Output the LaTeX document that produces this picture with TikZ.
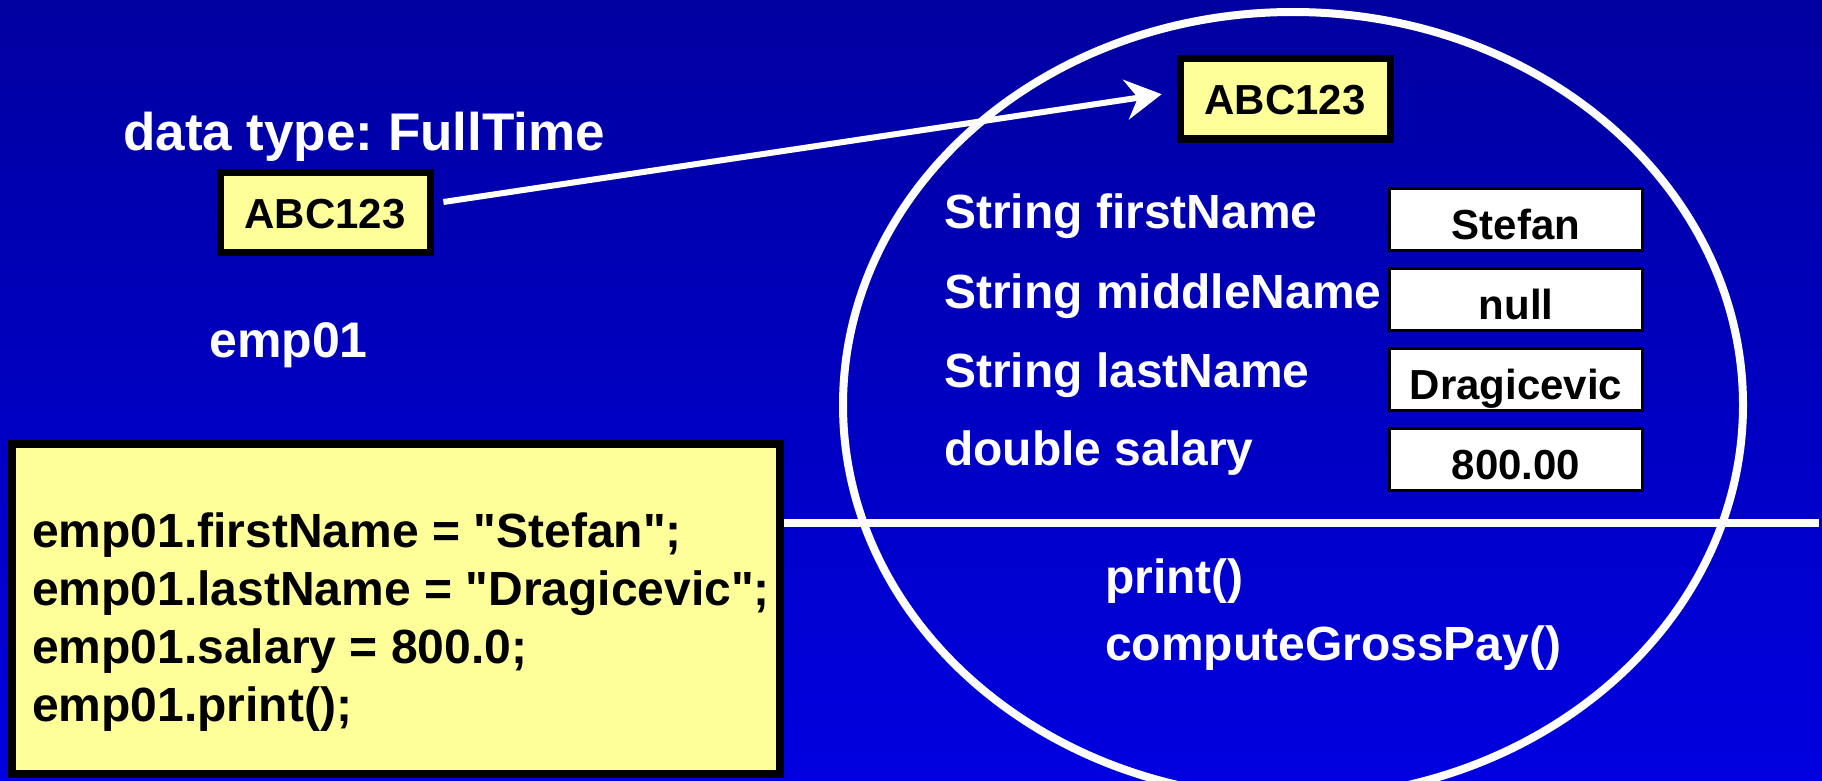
\documentclass[tikz,border=0pt]{standalone}
\usepackage{fontspec}
\setmainfont{Liberation Sans}
% plain family without TeX ligatures, so that " stays a straight quote
\newfontfamily\codefont{Liberation Sans}
\usetikzlibrary{arrows.meta}

\definecolor{slidetop}{RGB}{0,0,160}
\definecolor{slidebottom}{RGB}{0,0,224}
\definecolor{memo}{RGB}{255,255,153}

\newcommand\pxsize[1]{\fontsize{#1pt}{#1pt}\selectfont}
\frenchspacing

\tikzset{
  label text/.style={anchor=base west, inner sep=0pt, text=white, font=\bfseries\pxsize{48}},
  code text/.style={anchor=base west, inner sep=0pt, text=black, font=\codefont\bfseries\pxsize{48}},
  refbox/.style={draw=black, line width=7pt, fill=memo, inner sep=0pt,
    minimum width=210pt, minimum height=80pt, text height=31pt, text depth=0pt,
    font=\bfseries\pxsize{42}},
  valbox/.style={draw=black, line width=3pt, fill=white, inner sep=0pt,
    minimum width=253pt, minimum height=62pt, text height=40pt, text depth=0pt,
    font=\bfseries\pxsize{42}},
  codebox/.style={draw=black, line width=8pt, fill=memo, inner sep=0pt,
    minimum width=768pt, minimum height=330pt},
  ptr/.style={draw=white, line width=6pt,
    -{Stealth[length=36pt, width=40pt, inset=12pt]}},
}

\begin{document}
\begin{tikzpicture}[x=1pt, y=-1pt]
  \useasboundingbox (0,0) rectangle (1822,781);
  \clip (0,0) rectangle (1822,781);

  % slide background
  \shade[top color=slidetop, bottom color=slidebottom] (0,0) rectangle (1822,781);

  % the object in memory
  \draw[white, line width=8pt] (1293,405) ellipse [x radius=450, y radius=393];

  % divider between fields and methods, running under the code box
  \coordinate (divR) at (1819,523);
  \coordinate (boxC) at (396,609);
  \draw[white, line width=8pt] ([xshift=384pt]boxC |- divR) -- (divR);
  \node[codebox] (code) at (boxC) {};

  % statements
  \node[code text] (c1) at (32,547) {emp01.firstName = "Stefan";};
  \node[code text] (c2) at (32,605) {emp01.lastName = "Dragicevic";};
  \node[code text] (c3) at (32,663) {emp01.salary = 800.0;};
  \node[code text] (c4) at (32,721) {emp01.print();};

  % reference variable
  \node[label text, font=\bfseries\pxsize{53}] (type) at (123,150) {data type: FullTime};
  \node[refbox] (ref) at (325,212.5) {ABC123};
  \node[label text, font=\bfseries\pxsize{50}] (var) at (209,357) {emp01};

  % object identity
  \node[refbox] (obj) at (1285,99) {ABC123};

  % fields
  \node[label text] (f1) at (944,228) {String firstName};
  \node[label text] (f2) at (944,308) {String middleName};
  \node[label text] (f3) at (944,387) {String lastName};
  \node[label text] (f4) at (944,465) {double salary};

  \node[valbox] (v1) at (1516,219) {Stefan};
  \node[valbox] (v2) at (1516,299.5) {null};
  \node[valbox] (v3) at (1516,379) {Dragicevic};
  \node[valbox] (v4) at (1516,459.5) {800.00};

  % methods
  \node[label text] (m1) at (1105,593) {print()};
  \node[label text] (m2) at (1105,660) {computeGrossPay()};

  % reference arrow
  \draw[ptr, shorten <=10pt, shorten >=15pt]
    ([yshift=9pt]ref.east) -- ([yshift=7pt]obj.west);
\end{tikzpicture}
\end{document}
